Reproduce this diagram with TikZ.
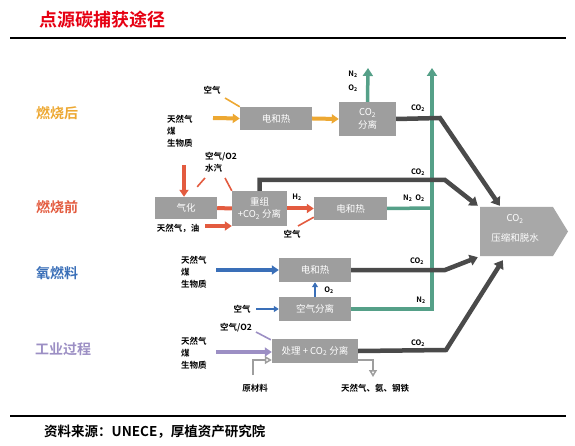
\documentclass[tikz,border=0pt]{standalone}
\usepackage{fontspec}
\setmainfont{Noto Sans CJK SC}[BoldFont={Noto Sans CJK SC Bold}]
\usetikzlibrary{arrows.meta,calc}
\definecolor{cOr}{HTML}{EDA832}
\definecolor{cRd}{HTML}{E35B3F}
\definecolor{cBl}{HTML}{3A6FB8}
\definecolor{cPu}{HTML}{9C8FC4}
\definecolor{cGn}{HTML}{55A088}
\definecolor{cDk}{HTML}{4A4A4A}
\definecolor{cBox}{HTML}{9E9E9E}
\definecolor{cTitle}{HTML}{E60012}
\tikzset{
  x=1pt, y=-1pt,
  proc/.style={fill=cBox, text=white, font=\fontsize{9.5}{11}\selectfont, align=center, inner sep=0pt},
  lbl/.style={font=\bfseries\fontsize{8.5}{12}\selectfont, inner sep=0pt, align=left},
  sub/.style={font=\bfseries\fontsize{7.5}{9}\selectfont, inner sep=0pt},
  side/.style={font=\bfseries\fontsize{14}{16}\selectfont, inner sep=0pt},
  fat/.style={line width=4pt, -{Triangle[length=7pt,width=9pt]}},
  thin/.style={line width=1.6pt},
  dk/.style={cDk, line width=4.5pt, -{Triangle[length=8pt,width=11pt]}},
  gn/.style={cGn, line width=3.5pt},
  open/.style={draw=cBox, line width=1.5pt, -{Triangle[open,length=7pt,width=8pt,fill=white]}},
}
\begin{document}
\begin{tikzpicture}
\useasboundingbox (0,0) rectangle (575,446);
% title and rules
\node[font=\bfseries\fontsize{18}{20}\selectfont, text=cTitle, anchor=west, inner sep=0pt] (title) at (39,20) {点源碳捕获途径};
\draw[line width=2pt] (10,38) -- (566,38);
\draw[line width=2pt] (10,416) -- (566,416);
\node[font=\bfseries\fontsize{13.5}{16}\selectfont, anchor=west, inner sep=0pt] (src) at (44,432) {资料来源：UNECE，厚植资产研究院};

% side labels
\node[side, text=cOr, anchor=west] (l1) at (36,113) {燃烧后};
\node[side, text=cRd, anchor=west] (l2) at (36,207) {燃烧前};
\node[side, text=cBl, anchor=west] (l3) at (36,273) {氧燃料};
\node[side, text=cPu, anchor=west] (l4) at (35,349) {工业过程};

% boxes
\node[proc, minimum width=72pt, minimum height=23pt] (b1) at (276,118.5) {电和热};
\node[proc, minimum width=57pt, minimum height=34pt] (b2) at (367.5,119) {CO\textsubscript{2}\\[2pt]分离};
\node[proc, minimum width=62pt, minimum height=22pt] (g) at (186,208) {气化};
\node[proc, minimum width=55pt, minimum height=35pt] (r) at (259.5,208.5) {重组\\[1pt]+CO\textsubscript{2} 分离};
\node[proc, minimum width=73pt, minimum height=23pt] (e2) at (350.5,208.5) {电和热};
\node[proc, minimum width=72pt, minimum height=24pt] (e3) at (315,270) {电和热};
\node[proc, minimum width=72pt, minimum height=24pt] (a) at (315,309) {空气分离};
\node[proc, minimum width=86pt, minimum height=24pt] (p) at (315,351) {处理 + CO\textsubscript{2} 分离};
% compression box
\fill[cBox!90!white] (480,207) -- (553,207) -- (568,231.5) -- (553,256) -- (480,256) -- cycle;
\node[inner sep=0pt, minimum width=73pt, minimum height=49pt] (c) at (516.5,231.5) {};
\node[proc, fill=none] (ct) at (515,219) {CO\textsubscript{2}};
\node[proc, fill=none] (cb) at (515,238) {压缩和脱水};

% texts
\node[lbl] (t1) at (212,90) {空气};
\node[lbl, anchor=west] (t2) at (167,131) {天然气\\煤\\生物质};
\node[sub] (n1) at (353,74) {N\textsubscript{2}};
\node[sub] (o1) at (353,88) {O\textsubscript{2}};
\node[sub] (c1) at (418,108) {CO\textsubscript{2}};

\node[lbl, anchor=north west] (t3) at (205,152) {空气/O2\\水汽};
\node[lbl] (t4) at (178,228) {天然气，油};
\node[sub] (h2) at (297,197) {H\textsubscript{2}};
\node[lbl] (t5) at (292,234) {空气};
\node[sub] (c2) at (418,172) {CO\textsubscript{2}};
\node[sub] (n2) at (414,198) {N\textsubscript{2}\, O\textsubscript{2}};

\node[lbl, anchor=west] (t6) at (181,272) {天然气\\煤\\生物质};
\node[sub] (o3) at (329,290) {O\textsubscript{2}};
\node[lbl] (t7) at (242,309) {空气};
\node[sub] (c3) at (417,261) {CO\textsubscript{2}};
\node[sub] (n3) at (421,300) {N\textsubscript{2}};

\node[lbl] (t8) at (236,328) {空气/O2};
\node[lbl, anchor=west] (t9) at (181,353) {天然气\\煤\\生物质};
\node[lbl] (t10) at (255,388) {原材料};
\node[lbl] (t11) at (375,388) {天然气、氨、钢铁};
\node[sub] (c4) at (418,343) {CO\textsubscript{2}};

% coordinates
\coordinate (k1) at (440,118);
\coordinate (k2a) at ($(r.north)+(0,-11)$);
\coordinate (k2b) at (445,180);
\coordinate (k3) at (445,270);
\coordinate (k4) at (446,350);
\coordinate (ga) at (432,68);
\coordinate (gb) at (432,208);
\coordinate (gc) at (432,309);
\coordinate (gt) at (368,68);
\coordinate (s1) at (225,98);
\coordinate (s2) at (213,118);
\coordinate (s3) at (205,178);
\coordinate (s4) at (225,178);
\coordinate (s5) at (184,165);
\coordinate (s6) at (205,226);
\coordinate (s7) at (298,226);
\coordinate (s8) at (216,270);
\coordinate (s9) at (256,309);
\coordinate (s10) at (256,332);
\coordinate (s11) at (216,352);
\coordinate (m1) at (253,375);
\coordinate (m2) at (253,360);
\coordinate (m3) at (373,360);
\coordinate (m4) at (373,377);

% green lines
\draw[gn, -{Triangle[length=8pt,width=10pt]}] (a.east) -- (gc) -- (ga);
\draw[gn] (e2.east) -- (gb);
\draw[gn, -{Triangle[length=8pt,width=10pt]}] (b2.north) -- (gt);

% dark lines
\draw[dk] (b2.east) -- (k1) -- ($(c.north west)+(20,-1)$);
\draw[dk] (r.north) -- (k2a) -- (k2b) -- ($(c.north west)+(-2,-1)$);
\draw[dk] (e3.east) -- (k3) -- ($(c.south west)+(-2,1)$);
\draw[dk] (p.east) -- (k4) -- ($(c.south west)+(23,4)$);

% orange
\draw[cOr, fat] (s2) -- (b1.west);
\draw[cOr, fat] (b1.east) -- (b2.west);
\draw[cOr, thin] (s1) -- (b1.north west);

% red
\draw[cRd, fat] (s5) -- ($(g.north)+(-2,0)$);
\draw[cRd, thin] (s3) -- ($(g.north east)+(-20,-10)$);
\draw[cRd, thin] (s4) -- (r.north west);
\draw[cRd, line width=4pt] (g.east) -- (r.west);
\draw[cRd, fat] (s6) -- (s6 -| r.west);
\draw[cRd, fat] (r.east) -- (e2.west);
\draw[cRd, thin] (s7) -- ($(e2.south west)+(0,-3)$);

% blue
\draw[cBl, fat] (s8) -- (e3.west);
\draw[cBl, line width=1.8pt, -{Triangle[length=5pt,width=6pt]}] (s9) -- (a.west);
\draw[cBl, line width=1.8pt, -{Triangle[length=5pt,width=6pt]}] (a.north) -- (e3.south);

% purple
\draw[cPu, fat] (s11) -- (s11 -| p.west);
\draw[cPu, thin] (s10) -- ($(p.north west)+(-1,1)$);

% open arrows
\draw[open] (m1) -- (m2) -- (m2 -| p.west);
\draw[open] (m3 -| p.east) -- (m3) -- (m4);
\end{tikzpicture}
\end{document}
